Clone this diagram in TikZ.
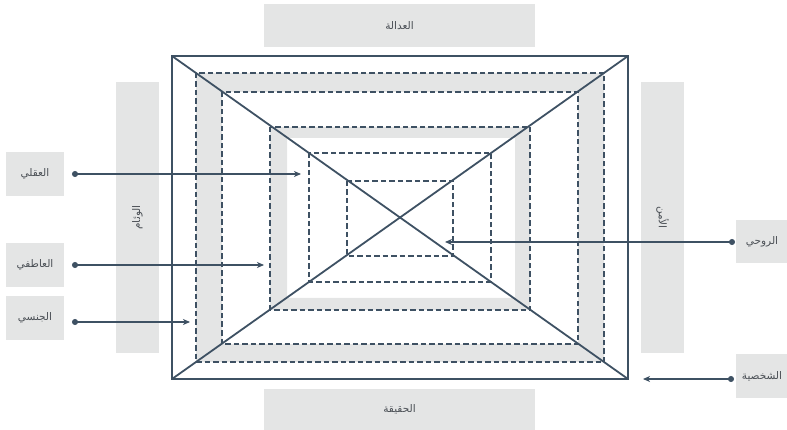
\documentclass[tikz,border=0pt]{standalone}
\usepackage{fontspec}
\usetikzlibrary{arrows.meta}
\TeXXeTstate=1
\newfontfamily\arabicfont[Script=Arabic]{DejaVu Sans}
\definecolor{linec}{HTML}{3E5163}
\definecolor{boxc}{HTML}{E4E5E5}
\definecolor{txtc}{HTML}{4A4F55}
\begin{document}
\begin{tikzpicture}[x=1pt,y=-1pt,
  lab/.style={fill=boxc, text=txtc, font=\arabicfont\fontsize{10.5}{12}\selectfont, inner sep=0pt, draw=none},
  band/.style={fill=boxc, even odd rule},
  dsh/.style={draw=linec, line width=1.3pt, dash pattern=on 5.5pt off 3pt},
  mainl/.style={draw=linec, line width=1.8pt},
  conn/.style={draw=linec, line width=1.1pt, {Circle[length=6pt]}-{Stealth[length=7pt,width=6pt,inset=2pt]}}
]
\useasboundingbox (0,0) rectangle (787,430);
% side labels
\node[lab, minimum width=271pt, minimum height=43pt] (adala) at (399.5,25.3) {\beginR العدالة\endR};
\node[lab, minimum width=271pt, minimum height=41pt] (haqiqa) at (399.5,409.5) {\beginR الحقيقة\endR};
\node[lab, rotate=90, minimum width=271pt, minimum height=43pt] (wiam) at (137.5,217.5) {\beginR الوئام\endR};
\node[lab, rotate=-90, minimum width=271pt, minimum height=43pt] (amn) at (662.5,217.5) {\beginR الأمن\endR};
% bands
\fill[band] (196,73) rectangle (604,362) (222,92) rectangle (578,344);
\fill[band] (270,127) rectangle (530,310) (287,138) rectangle (515,298);
% dashed rectangles
\draw[dsh] (196,73) rectangle (604,362);
\draw[dsh] (222,92) rectangle (578,344);
\draw[dsh] (270,127) rectangle (530,310);
\draw[dsh] (309,153) rectangle (491,282);
\draw[dsh] (347,181) rectangle (453,256);
% outer frame and diagonals
\coordinate (tl) at (172,56);
\coordinate (tr) at (628,56);
\coordinate (bl) at (172,379);
\coordinate (br) at (628,379);
\draw[mainl] (tl) rectangle (br);
\draw[mainl] (tl) -- (br);
\draw[mainl] (bl) -- (tr);
% level labels
\node[lab, minimum width=58pt, minimum height=44pt] (aqli) at (35,174) {\beginR العقلي\endR};
\node[lab, minimum width=58pt, minimum height=44pt] (atifi) at (35,265) {\beginR العاطفي\endR};
\node[lab, minimum width=58pt, minimum height=44pt] (jinsi) at (35,318) {\beginR الجنسي\endR};
\node[lab, minimum width=52pt, minimum height=43pt] (ruhi) at (762,241.5) {\beginR الروحي\endR};
\node[lab, minimum width=52pt, minimum height=44pt] (shakh) at (762,376) {\beginR الشخصية\endR};
% connectors
\coordinate (s1) at (72,174);   \coordinate (e1) at (301,174);
\coordinate (s2) at (72,265);   \coordinate (e2) at (264,265);
\coordinate (s3) at (72,322);   \coordinate (e3) at (190,322);
\coordinate (s4) at (735,242);  \coordinate (e4) at (445,242);
\coordinate (s5) at (734,379);  \coordinate (e5) at (643,379);
\draw[conn] (s1) -- (e1);
\draw[conn] (s2) -- (e2);
\draw[conn] (s3) -- (e3);
\draw[conn] (s4) -- (e4);
\draw[conn] (s5) -- (e5);
\end{tikzpicture}
\end{document}
